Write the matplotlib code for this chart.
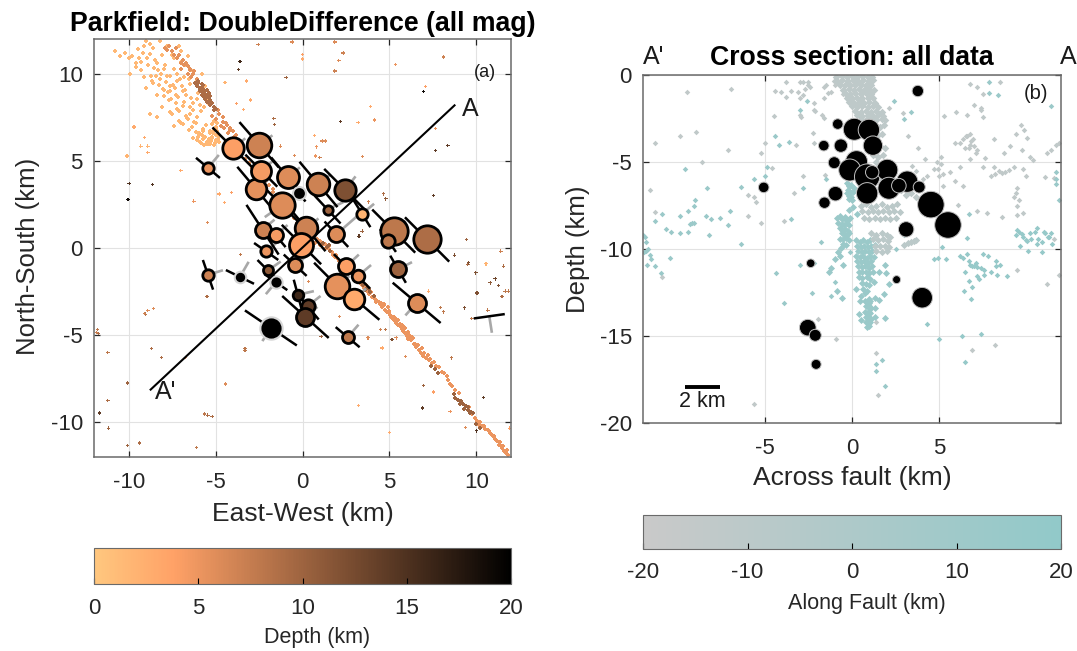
import matplotlib
matplotlib.use("Agg")
import numpy as np
import matplotlib.pyplot as plt
from matplotlib.colors import LinearSegmentedColormap, Normalize
from matplotlib.cm import ScalarMappable

plt.rcParams['font.family'] = ['Liberation Sans', 'DejaVu Sans']
plt.rcParams['axes.unicode_minus'] = False

W, H = 1077, 651

# ---- panel (a): large events, depth and size
ev_x = [-3.98, -2.5, -5.44, -2.66, -2.37, -0.84, 0.92, 2.45, -0.21, -1.19, 1.44, 3.43, -2.3, -1.55, 0.23, 1.95,
        5.25, 4.92, 7.17, -0.06, -2.09, -5.44, -3.6, -1.99, -1.53, -0.42, -0.27, 0.29, 0.17, -1.82, 2.6, 2.51,
        3.18, 2.01, 2.97, 5.5, 6.57, 10.75]
ev_y = [5.72, 5.93, 4.6, 3.36, 4.44, 4.05, 3.65, 3.34, 3.13, 2.46, 2.21, 1.96, 1.05, 0.74, 1.12, 0.79,
        0.97, 0.43, 0.49, 0.2, -0.2, -1.54, -1.66, -1.29, -1.96, -0.99, -2.69, -3.34, -3.96, -4.59, -5.12, -1.06,
        -1.62, -2.19, -2.9, -1.22, -3.15, -3.92]
ev_depth = [4, 7, 5, 5.5, 4.5, 6, 7, 12, 20, 6, 10, 2, 7, 4.5, 7, 6,
            8, 8, 9, 4, 5, 7, 20, 11, 20, 6, 16, 14, 14, 20, 8, 4,
            5, 5.5, 3, 10, 6, 5]
ev_radius = [10.7, 12.3, 5.7, 10.3, 10, 11, 11.3, 10.7, 4, 12.7, 4.7, 5.7, 8, 7, 11.3, 8,
             13.7, 6.7, 13.7, 12, 5.7, 5.7, 3.3, 5, 3.7, 7, 5.3, 6.7, 9, 8.7, 6, 8,
             6.3, 12.3, 10.3, 8, 9, 0]
ev_strike = [-45, -49, -40, -50, -45, -50, -50, -45, -50, -45, -47, -58, -57, -50, -50, -47,
             -45, -55, -45, -45, -35, -71, -26, -45, -35, -43, -75, -50, -42, -34, -40, -45,
             -45, -45, -40, -60, -40, 8]
ev_half = [1.7, 1.72, 0.9, 1.7, 1.3, 1.5, 1.7, 1.7, 0.6, 1.7, 1.1, 0.9, 1.7, 0.9, 1.7, 1.0,
           1.75, 0.8, 1.8, 1.6, 0.85, 0.9, 0.9, 0.85, 0.8, 0.9, 0.9, 1.0, 1.8, 1.8, 0.9, 1.0,
           1.0, 1.9, 1.9, 0.9, 1.8, 0.9]
ev_slip = [40, 35, 50, 40, 40, 40, 40, 52, 210, 215, 25, 40, 40, 40, 40, 41,
           40, 40, 40, 40, 40, 17, 60, 35, 230, 40, 13, 38, 40, 237, 49, 43,
           40, 40, 40, 27, 228, -81]
ev_slip_len = [0.9, 0.94, 0.97, 0.9, 0.9, 0.9, 0.9, 0.98, 0.8, 1.2, 1.0, 0.9, 0.9, 0.9, 0.9, 1.57,
               0.9, 0.9, 0.9, 0.9, 0.9, 0.9, 1.0, 0.9, 0.9, 0.9, 0.95, 0.95, 0.9, 0.9, 0.95, 1.0,
               1.0, 0.9, 0.9, 0.9, 0.97, 0.96]

# small events, one group per part of the fault
nw_light_x = [-10.8, -10.5, -10.2, -10.0, -9.8, -9.4, -9.0, -8.8, -8.6, -9.2, -8.2, -9.3, -9.9, -9.6, -9.3, -8.9,
              -8.5, -8.1, -7.7, -9.1, -8.7, -8.3, -7.9, -7.5, -7.1, -9.0, -8.6, -8.2, -7.8, -7.4, -7.0, -6.6,
              -8.4, -8.0, -7.6, -7.2, -6.8, -6.4, -8.1, -7.7, -7.3, -6.9, -6.5, -6.1, -5.8, -7.6, -7.2, -6.8,
              -6.4, -6.0, -5.6, -7.1, -6.7, -6.3, -5.9, -5.5, -6.3, -6.1, -5.9, -5.7, -5.5, -5.3, -5.1, -6.0,
              -5.8, -5.6, -5.4, -5.2, -5.0, -4.8, -5.3, -5.2, -5.1, -5.0, -4.9, -4.8, -5.25, -5.05, -4.85,
              -5.15, -4.95, -5.45, -5.65, -5.85, -7.4, -7.0, -6.6, -8.8, -8.4, -7.6, -7.8, -7.4, -7.0, -6.7,
              -9.6, -9.45, -9.15, -8.95, -8.75, -8.55, -8.35, -8.15, -7.95, -8.65, -8.45, -8.25, -8.05, -7.85, -7.65,
              -7.45, -7.25, -7.05, -7.95, -7.75, -7.55, -7.35, -7.15, -6.95, -6.75, -6.55, -7.5, -7.3, -7.1, -6.9,
              -6.7, -6.5, -6.3, -6.1, -5.9, -6.85, -6.65, -6.45, -6.25, -6.05, -5.85, -5.65, -5.45, -6.55, -6.35,
              -6.15, -5.95, -5.75, -5.55, -5.35, -5.2, -5.1, -5.0, -4.9, -5.55, -5.75, -5.95, -6.15]
nw_light_y = [11.3, 11.0, 11.2, 10.9, 11.0, 10.9, 11.9, 11.7, 11.5, 11.2, 11.9, 10.7, 10.0, 10.4, 10.2, 10.5,
              10.8, 11.1, 11.6, 9.8, 9.9, 10.2, 10.5, 11.1, 11.6, 9.2, 9.5, 9.7, 9.9, 10.3, 10.7, 11.0,
              8.8, 9.1, 9.3, 9.6, 9.8, 10.2, 8.1, 8.5, 8.8, 9.0, 9.4, 9.6, 10.0, 7.8, 8.0, 8.4,
              8.6, 8.9, 9.3, 7.3, 7.6, 7.9, 8.2, 8.6, 6.3, 6.2, 6.1, 6.25, 6.1, 6.0, 5.9, 6.4,
              6.5, 6.35, 6.25, 6.3, 6.2, 6.1, 6.6, 6.4, 6.8, 6.5, 6.7, 6.45, 6.15, 6.05, 6.25,
              6.6, 6.9, 5.95, 5.9, 6.05, 7.0, 7.2, 7.4, 7.7, 7.5, 9.0, 11.6, 10.9, 11.3, 10.5,
              10.6, 11.4, 11.6, 10.9, 11.15, 10.35, 10.65, 10.0, 10.3, 9.6, 9.9, 9.35, 9.15, 9.55, 9.85,
              9.35, 10.0, 9.7, 8.75, 8.95, 8.55, 9.2, 8.65, 9.3, 9.05, 9.7, 7.7, 8.3, 7.85, 8.15,
              8.8, 8.1, 8.35, 8.55, 9.0, 7.1, 7.45, 7.7, 7.25, 7.55, 7.85, 8.1, 8.3, 6.75, 6.95,
              7.2, 6.6, 6.85, 7.05, 6.7, 7.1, 7.3, 6.95, 7.15, 5.95, 6.7, 6.55, 6.65]
nw_mid_x = [-7.9, -7.7, -7.5, -7.3, -7.1, -6.9, -6.7, -6.5, -6.3, -6.1, -7.0, -6.8, -6.6, -6.4, -5.0, -4.8, -4.6,
            -4.4, -4.2, -4.0, -3.8, -5.2, -5.0, -4.7, -4.5, -4.3, -3.3, -3.1, -2.9, -2.7, -1.9, -1.7, -1.5, -1.3,
            -0.9, -0.7, -0.5, 0.0, 0.3, 0.6, 0.85, -7.8, -7.4, -7.2, -7.0, -6.6, -6.45, -6.25, -4.85, -4.55, -4.35,
            -4.15, -3.95, -2.3, -2.1, -1.7, -1.1, -0.3, 0.15, 0.45, -0.1, 0.7, 1.0]
nw_mid_y = [11.5, 11.6, 11.3, 11.5, 11.1, 10.8, 10.6, 10.3, 10.0, 9.7, 10.3, 10.5, 10.0, 9.8, 8.0, 7.7, 7.5,
            7.2, 6.9, 6.7, 6.5, 7.6, 7.4, 7.0, 6.9, 6.6, 5.1, 4.9, 4.6, 4.4, 3.6, 3.4, 3.0, 2.8,
            2.2, 2.0, 1.7, 1.2, 0.95, 0.6, 0.5, 11.35, 11.1, 10.9, 10.65, 10.45, 10.2, 10.15, 7.9, 7.25, 7.05,
            6.75, 6.35, 4.05, 3.85, 3.2, 2.5, 1.45, 0.75, 0.85, 1.35, 0.3, 0.15]
nw_dark_x = [-6.2, -6.1, -6.0, -5.9, -5.8, -5.7, -5.6, -5.5, -5.4, -6.0, -5.9, -5.8, -5.7, -5.6, -5.5, -5.4, -5.3,
             -5.9, -5.8, -5.7, -5.6, -5.5, -5.4, -5.3, -5.2, -5.1, -5.7, -5.5, -5.3, -5.1, -4.95]
nw_dark_y = [9.5, 9.3, 9.45, 9.2, 9.4, 9.15, 9.0, 8.8, 8.6, 9.6, 9.0, 9.25, 8.95, 8.85, 9.05, 8.35, 8.5,
             9.05, 8.8, 8.7, 8.55, 8.65, 8.9, 8.2, 8.3, 8.1, 9.35, 8.4, 8.7, 7.9, 8.0]
se_mid_x = [1.0, 1.2, 1.35, 1.5, 1.7, 1.85, 2.0, 2.2, 2.4, 2.6, 2.8, 3.0, 3.2, 3.35, 3.55, 3.7, 3.85, 4.0, 4.15, 4.3,
            4.45, 4.6, 4.75, 4.85, 5.0, 5.1, 5.2, 5.3, 5.4, 5.5, 5.6, 5.7, 5.8, 5.9, 6.0, 6.1, 6.25, 6.4, 6.55, 6.7,
            6.8, 6.95, 7.1, 7.3, 7.45, 8.4, 8.5, 8.6, 8.8, 9.0, 9.9, 10.05, 10.2, 10.35, 10.5, 10.65, 10.8, 10.9,
            11.0, 11.1, 11.2, 11.3, 11.4, 11.5, 11.6, 11.7, 11.8, 5.1, 5.3, 5.5, 5.7, 5.9, 6.1, 6.3, 4.9, 4.7, 4.5,
            1.1, 1.3, 1.55, 1.75, 1.95, 2.1, 2.3, 2.5, 2.7, 2.9, 3.1, 3.3, 3.45, 3.65, 3.8, 3.95, 4.1, 4.25, 4.4,
            4.55, 4.7, 4.95, 5.05, 5.25, 5.45, 5.65, 5.85, 6.05, 6.2, 6.35, 6.5, 6.65, 6.85, 7.0, 7.2, 7.35, 7.55,
            7.7, 7.85, 8.0, 8.15, 8.3, 9.6, 9.75, 10.15, 10.45, 10.75, 11.05, 11.35, 11.55, 11.75, 5.6, 5.8, 6.2]
se_mid_y = [0.4, 0.3, 0.0, 0.1, -0.25, -0.5, -0.6, -0.8, -1.0, -1.25, -1.4, -1.65, -1.9, -2.05, -2.3, -2.45, -2.65,
            -2.8, -2.95, -3.05, -3.2, -3.4, -3.55, -3.65, -3.75, -3.9, -4.05, -4.2, -4.3, -4.4, -4.5, -4.65, -4.75,
            -4.9, -5.05, -5.2, -5.3, -5.5, -5.7, -5.85, -6.0, -6.2, -6.3, -6.45, -6.6, -7.6, -7.8, -7.95, -8.15, -8.3,
            -9.75, -9.95, -10.0, -10.2, -10.4, -10.45, -10.65, -10.75, -10.85, -10.95, -11.1, -11.3, -11.35, -11.5,
            -11.65, -11.75, -11.9, -3.95, -4.0, -4.15, -4.4, -4.6, -4.95, -5.1, -3.4, -3.2, -3.15,
            0.15, 0.25, -0.05, -0.4, -0.4, -0.75, -0.75, -1.05, -1.15, -1.55, -1.55, -1.75, -2.15, -2.15, -2.55, -2.55, -2.85, -3.1, -3.1,
            -3.35, -3.3, -3.6, -3.85, -3.95, -4.15, -4.45, -4.55, -4.8, -5.05, -5.15, -5.5, -5.55, -5.75, -6.05, -6.15, -6.35, -6.55,
            -6.75, -6.85, -7.1, -7.2, -7.35, -9.15, -9.55, -10.15, -10.2, -10.5, -10.8, -11.15, -11.35, -11.6, -4.35, -4.55, -5.05]
se_dark_x = [1.2, 1.4, 1.6, 1.5, 3.5, 3.7, 3.9, 4.1, 3.6, 3.85, 7.4, 7.6, 7.8, 8.7, 8.8, 8.95, 9.1, 9.25, 9.4, 9.55, 9.7, 9.8, 9.05,
             9.3, 9.5, 9.65, 10.0, 10.2]
se_dark_y = [0.3, 0.05, -0.15, 0.15, -2.1, -2.3, -2.5, -2.75, -2.4, -2.35, -6.75, -6.95, -7.15, -8.4, -8.6, -8.7, -8.8, -8.95,
             -9.1, -9.3, -9.4, -9.5, -8.95, -9.25, -9.15, -9.45, -10.1, -10.35]
other_x = [-2.55, -0.6, 1.86, 2.34, 2.09, 0.0, 0.0, 8.1, 5.35, 1.86, -0.94, -3.6, -3.7, 6.97, 7.07, 3.9, 4.14, 3.2, 2.18, 7.64,
           8.37, 7.64, 3.47, 0.69, 1.13, 1.3, 0.8, 0.75, 1.0, -0.45, -1.26, -1.65, -1.6, -3.0, -3.8, -3.4, -4.46, -3.24,
           7.55, 4.67, 4.8, 3.81, 9.43, 3.43, 3.25, -9.98, -8.64, -10.04, -6.25, -5.48, -4.8, -4.5, -4.1, -7.0, -10.1,
           -9.1, -9.7, -8.9, -9.3, -8.9, -3.56, -5.5, -9.02, -9.1, -8.9, -8.58, -11.8, -11.85, -11.75, -8.7, -11.2, -8.1,
           -6.72, -3.31, -3.31, -10.08, -4.43, -11.2, -11.7, -5.63, -5.45, -5.2, -11.17, -10.08, -9.37, -6.11, 8.75, 9.52,
           9.55, 10.56, 11.57, 11.42, 9.98, 11.09, 10.8, 11.28, 10.04, 11.48, 11.66, 11.85, 9.31, 10.67, 9.75, 7.93, 8.12,
           7.26, 10.42, 8.56, 6.97, 7.55, 6.92, 8.5, 3.24, 5.0, 5.92, 4.58, 3.77, 2.13, 1.07, 0.36, 4.48, 4.77, 5.39, 5.15,
           9.37, 10.0, 11.9]
other_y = [11.7, 11.83, 11.83, 11.2, 10.75, 11.1, 10.85, 10.97, 10.55, 10.16, 9.78, 10.7, 10.26, 9.0, 9.26, 8.11, 7.35, 7.2, 7.25, 6.85,
           5.9, 5.6, 5.24, 6.47, 6.14, 6.14, 5.81, 5.28, 5.2, 5.3, 5.85, 7.44, 7.1, 8.5, 8.3, 7.95, 9.5, 9.59,
           3.02, 3.11, 2.82, 2.65, 0.49, 0.97, 0.68, 3.69, 3.65, 2.79, 2.69, 1.48, 3.1, 2.6, 3.2, 4.45, 5.28,
           6.33, 6.95, 5.47, 5.85, 5.85, -0.37, -2.77, -3.8, -3.75, -3.6, -3.48, -4.68, -4.85, -4.9, -5.78, -6.0, -6.27,
           -6.27, -5.77, -5.89, -7.75, -7.81, -8.74, -9.47, -9.53, -9.6, -9.66, -10.34, -11.33, -11.2, -11.45, -0.41, -0.95,
           -0.85, -0.91, -1.04, -0.18, -1.43, -1.77, -2.0, -2.15, -2.58, -2.77, -2.48, -2.48, -3.44, -3.57, -4.05, -3.4, -3.67,
           -2.48, -8.57, -6.31, -7.88, -8.27, -9.19, -9.38, -9.03, -10.58, -6.22, -5.74, -5.16, -3.92, -5.07, -1.91, -4.68, -4.68, -5.16, -5.26,
           -10.3, -10.5, -10.34]
other_depth = [7, 6, 6, 7, 6, 4, 3, 7, 5, 7, 10, 16, 14, 19, 4, 3, 5, 3, 14, 5,
               14, 14, 6, 3, 6, 6, 5, 5, 7, 6, 6, 9, 10, 3, 4, 3, 2, 3,
               14, 9, 11, 7, 10, 10, 14, 15, 15, 19, 5, 6, 3, 3, 4, 3, 2,
               3, 3, 3, 2, 2, 8, 9, 8, 7, 6, 6, 8, 7, 9, 9, 8, 9,
               5, 8, 8, 10, 6, 9, 14, 8, 9, 9, 10, 10, 9, 8, 12, 9,
               12, 2, 9, 7, 12, 13, 11, 12, 12, 9, 8, 8, 12, 8, 8, 8, 8,
               3, 14, 8, 10, 4, 14, 5, 3, 3, 6, 3, 6, 6, 10, 6, 7, 8, 6, 12,
               6, 15, 4]

# ---- panel (b): large events in section
sec_x = [3.78, -0.82, 0.13, 0.97, -1.62, -0.64, 1.2, -1.02, 0.26, -0.13, 0.87, 2.02, 3.17, 2.12, 2.69, 3.86, 0.87, 1.16,
         -5.07, -0.95, -1.58, 4.53, 5.51, 3.11, -2.37, 2.56, 4.03, -2.54, -2.11, -2.06]
sec_y = [-0.92, -2.82, -3.12, -3.16, -4.06, -4.06, -4.06, -5.04, -4.98, -5.46, -5.84, -5.46, -6.13, -6.51, -6.36, -6.44, -6.8, -5.59,
         -6.46, -6.82, -7.34, -7.45, -8.62, -8.87, -10.82, -11.76, -12.8, -14.52, -14.96, -16.63]
sec_radius = [5.7, 5.3, 11, 10.7, 5.3, 6.7, 9.7, 6, 11, 11, 12.7, 10.7, 10.7, 11, 7.3, 6, 10.7, 6.7,
              5.3, 7.3, 5.7, 13.3, 13.3, 7.7, 4.3, 4, 10.3, 8.3, 6, 5]

# small events: (x, depth) by group, each group with its along-fault position
top_x = [-0.9, -0.6, -0.3, 0.0, 0.3, 0.6, 0.9, 1.15, -0.85, -0.55, -0.25, 0.05, 0.35, 0.65, 0.95, 1.2, -0.7, -0.4, -0.1, 0.2, 0.5,
         0.8, 1.1, -0.5, -0.2, 0.1, 0.4, 0.7, 1.0, 1.25, -0.4, -0.1, 0.2, 0.5, 0.8, 1.1, -0.3, 0.0, 0.3, 0.6, 0.9, 1.2, -0.2, 0.1,
         0.4, 0.7, 1.0, 1.3, 0.0, 0.3, 0.6, 0.9, 1.2, 1.5, 0.2, 0.5, 0.8, 1.1, 1.4, 1.7, 0.3, 0.6, 0.9, 1.2, 1.5, 1.8, 0.5, 0.8,
         1.1, 1.4, 1.7, 1.9, 0.7, 1.0, 1.3, 1.6, 1.85, 0.85, 1.15, 1.45, 1.75, 1.0, 1.3, 1.6, 1.9, 1.2, 1.5, 1.8, 1.4, 1.7, 2.0, 1.6, 1.9, 2.2,
         1.7, 2.0, 2.3, 2.6, 2.1, 2.45, 2.8, 3.1, 3.4, 3.7]
top_y = [-0.1, -0.05, -0.1, -0.05, -0.1, -0.05, -0.1, -0.1, -0.35, -0.3, -0.35, -0.3, -0.35, -0.3, -0.35, -0.3, -0.6, -0.55, -0.6, -0.55, -0.6,
         -0.55, -0.6, -0.85, -0.8, -0.85, -0.8, -0.85, -0.8, -0.85, -1.05, -1.1, -1.05, -1.1, -1.05, -1.1, -1.3, -1.35, -1.3, -1.35, -1.3, -1.35, -1.55, -1.6,
         -1.55, -1.6, -1.55, -1.6, -1.8, -1.85, -1.8, -1.85, -1.8, -1.85, -2.05, -2.1, -2.05, -2.1, -2.05, -2.1, -2.3, -2.35, -2.3, -2.35, -2.3, -2.35, -2.55, -2.6,
         -2.55, -2.6, -2.55, -2.6, -2.9, -3.0, -2.9, -3.0, -2.9, -3.5, -3.4, -3.5, -3.4, -4.1, -4.2, -4.1, -4.2, -4.6, -4.7, -4.6, -5.0, -5.1, -5.0, -5.4, -5.5, -5.4,
         -6.0, -6.1, -6.0, -6.1, -6.6, -6.7, -6.6, -6.9, -6.8, -7.0]
mid_gray_x = [0.5, 0.8, 1.1, 1.4, 1.7, 2.0, 2.3, 2.6, 0.6, 0.9, 1.2, 1.5, 1.8, 2.1, 2.4, 2.75, 0.7, 1.0, 1.3, 1.6, 1.9, 2.2, 2.5, 1.1, 1.4, 1.7, 2.0,
              2.2, 1.2, 1.5, 1.8, 2.05, 1.3, 1.6, 1.9, 2.1, 1.4, 1.7, 2.0, 3.0, 3.2, 3.4, 3.55, 3.7]
mid_gray_y = [-7.5, -7.4, -7.6, -7.5, -7.4, -7.6, -7.5, -7.4, -7.8, -7.9, -7.8, -7.9, -7.8, -7.9, -7.8, -7.9, -8.2, -8.25, -8.2, -8.25, -8.2, -8.25, -8.2, -9.1, -9.2, -9.1, -9.2,
              -9.3, -9.45, -9.5, -9.45, -9.55, -9.8, -9.85, -9.8, -9.9, -10.1, -10.15, -10.1, -9.75, -9.65, -9.6, -9.55, -9.5]
teal_x = [-0.3, -0.2, -0.05, 0.1, -0.25, -0.1, 0.05, -0.2, -0.05, -0.15, 0.0, -0.3, -0.15, -0.85, -0.7, -0.55, -0.4, -0.25, -0.1, -0.8, -0.6, -0.45, -0.3, -0.15, -0.7, -0.55,
          -0.4, -0.25, -0.6, -0.45, -0.3, -0.15, -0.7, -0.5, -0.35, -0.2, -0.5, -0.35, -0.65, -0.8, -1.0, -0.7, -0.5, 0.25, 0.45, 0.65, 0.85, 1.05, 0.3, 0.5, 0.7, 0.9,
          1.1, 1.3, 0.35, 0.55, 0.75, 0.95, 1.15, 0.25, 0.45, 0.65, 0.85, 1.05, 1.25, 0.3, 0.5, 0.7, 0.9, 1.1, 0.35, 0.55, 0.75, 0.95, 1.15, 0.4, 0.6, 0.8, 1.0,
          1.2, 0.4, 0.6, 0.85, 1.05, 0.6, 0.8, 1.0, 1.25, 0.65, 0.85, 0.25, 0.5, 0.75, 0.95, 1.3, 1.55, 0.75, 0.85, 0.95, 1.05, 0.8, 0.9, 1.0, 1.1, 0.75, 0.85, 0.95, 1.05,
          0.8, 0.9, 1.0, 1.1, 0.8, 0.95, 1.05, 0.85, 1.0, 0.4, 0.5, 1.3, 1.9, 0.05, 0.3, -0.2, -0.4, -1.2, -1.3, -0.85, -0.6, 1.55, 1.9, 1.95, 2.1, 1.85, 0.45, 1.3]
teal_y = [-6.2, -6.4, -6.3, -6.5, -6.6, -6.75, -6.7, -6.95, -7.0, -7.15, -7.2, -6.8, -6.3, -8.2, -8.1, -8.3, -8.15, -8.35, -8.2, -8.5, -8.55, -8.6, -8.5, -8.6, -8.8, -8.9,
          -8.85, -8.95, -9.1, -9.15, -9.2, -9.1, -9.4, -9.45, -9.35, -9.5, -9.7, -9.75, -9.95, -10.2, -10.6, -10.4, -10.9, -9.5, -9.6, -9.5, -9.6, -9.5, -9.85, -9.9, -9.8, -9.9,
          -9.85, -9.75, -10.1, -10.15, -10.1, -10.2, -10.1, -10.4, -10.45, -10.4, -10.5, -10.4, -10.45, -10.7, -10.75, -10.7, -10.8, -10.7, -11.0, -11.05, -11.0, -11.1, -11.0, -11.3, -11.35, -11.3, -11.4,
          -11.3, -11.6, -11.65, -11.6, -11.7, -11.95, -12.0, -12.05, -11.9, -12.3, -12.4, -12.3, -12.7, -12.5, -12.9, -12.8, -12.95, -13.0, -13.05, -13.1, -13.0, -13.3, -13.35, -13.3, -13.4, -13.6, -13.65, -13.6, -13.7,
          -13.9, -13.95, -13.9, -14.0, -14.2, -14.25, -14.2, -14.5, -14.45, -13.75, -14.1, -13.9, -13.95, -7.6, -8.0, -7.75, -8.3, -11.1, -11.3, -12.4, -12.8, -11.3, -10.9, -11.4, -12.0, -12.6, -13.0, -13.4]
right_teal_x = [6.2, 6.4, 6.6, 6.8, 7.0, 7.2, 7.4, 7.6, 6.5, 6.9, 7.3, 6.7, 7.15, 6.45, 6.85, 7.6, 7.5, 8.25, 8.25, 8.9, 8.0, 9.4, 9.6, 9.8, 10.0, 10.2, 10.5, 10.7, 10.9, 11.1, 11.3, 11.5,
                9.5, 9.75, 10.05, 10.3, 10.6, 11.0, 11.25, 11.45, 9.65, 10.1, 10.65, 10.9, 8.3, 8.5, 5.15, 4.95, 5.4, 4.7, 6.9, 6.6, 6.7, 7.8, 7.1, 6.3, 4.3, 5.0, 6.5, 7.4]
right_teal_y = [-10.4, -10.5, -10.3, -10.9, -11.0, -11.05, -11.1, -11.5, -11.3, -11.0, -11.7, -11.85, -11.55, -12.4, -12.9, -11.2, -10.3, -10.7, -11.0, -11.55, -11.3, -9.2, -9.0, -9.3, -9.5, -9.1, -9.0, -9.4, -9.6, -9.1, -9.3, -9.7,
                -8.9, -9.15, -9.55, -9.4, -8.8, -9.0, -9.3, -9.1, -9.85, -10.1, -9.7, -10.2, -11.5, -10.9, -9.9, -10.5, -10.6, -10.6, -12.2, -9.35, -10.7, -10.4, -10.8, -15.0, -14.3, -15.2, -16.5, -14.9]
far_teal_x = [-12.0, -11.9, -11.8, -11.7, -11.85, -11.95, -11.6, -11.55, -11.75, -11.3, -10.95, -10.45, -9.9, -9.4, -8.1, -10.7, -9.9, -9.4, -9.1, -9.0, -6.4, -5.6, -5.0, -4.9, -4.4,
              -4.35, -3.9, -3.0, -2.3, -1.0, -1.2, -0.8, -0.6, -0.1, 1.35, 1.7, 1.4, 1.9, 2.5, 3.0, 3.2, -2.2, -1.8, -3.5, -7.6, -8.4, -7.0, -4.2, -3.0, -2.6]
far_teal_y = [-9.2, -9.3, -9.6, -10.0, -10.1, -10.2, -10.35, -10.6, -10.9, -11.0, -11.4, -10.5, -9.1, -9.0, -8.3, -8.85, -8.1, -7.8, -7.5, -7.2, -9.7, -6.0, -5.8, -5.3, -3.5, -11.4,
              -13.1, -10.9, -12.5, -11.9, -12.7, -10.2, -9.9, -10.2, -16.6, -16.4, -17.0, -17.9, -10.0, -9.2, -8.85, -10.8, -9.6, -8.3, -8.2, -8.1, -7.8, -4.0, -2.0, -1.5]
gray_far_x = [6.2, 6.4, 6.6, 6.7, 6.85, 7.0, 7.2, 6.5, 6.75, 6.95, 7.1, 6.55, 6.8, 5.9, 5.6, 5.9, 6.4, 6.6, 7.4, 7.5, 8.2, 8.45, 9.8, 10.0, 9.6, 10.4, 11.6, 11.9, 11.2, 9.4, 9.7, 9.5, 9.3,
              4.9, 4.95, 5.0, 5.2, 4.1, 4.3, 2.0, 2.1, 2.9, 3.2, 3.8, -0.5, -1.2, -1.6, -1.7, -2.2, -2.9, -3.1, -3.0, -3.5, -4.4, -3.2, -3.35, -11.3, -9.5, -9.9, -5.6, -6.0, -5.2,
              -3.9, -5.0, -5.2, -2.7, -3.0, -2.5, -1.0, -1.6, -2.2, 1.4, 1.35, 1.5, 8.2, 6.9, 9.5, 11.2, 11.6, 11.9, -10.9, -5.6, -1.95, -0.9]
gray_far_y = [-3.9, -3.7, -3.5, -4.2, -3.8, -4.1, -4.3, -4.2, -4.0, -3.7, -4.5, -3.5, -3.4, -3.9, -5.6, -6.1, -6.4, -2.3, -1.9, -1.1, -5.7, -5.5, -5.4, -5.8, -7.2, -4.9, -5.9, -3.9, -4.5, -3.4, -2.9, -6.5, -7.0,
              -5.0, -5.4, -5.8, -5.7, -6.0, -5.8, -6.4, -1.9, -2.2, -3.5, -4.2, -1.1, -1.0, -1.3, -2.3, -2.0, -2.4, -1.0, -1.3, -0.9, -0.9, -4.0, -6.8, -7.9, -1.0, -3.5, -7.0, -8.1, -8.5,
              -8.4, -3.9, -4.5, -0.8, -0.4, -0.6, -0.6, -0.7, -1.6, -14.2, -16.0, -18.4, -15.5, -15.8, -11.2, -12.0, -9.4, -11.5, -11.6, -18.9, -14.0, -15.2]
upper_gray_x = [-6.93, -8.95, -11.3, -7.1, -8.6, -11.6, -6.0, -5.5, -3.8, -2.8, -2.5, -2.4, -2.8, -4.1, -3.8, -4.5, -3.0, -2.1, -1.6, -1.4,
                -1.5, -1.05, -2.25, -2.2, -4.6, -2.8, -1.55, 6.8, 8.5, 7.2, 5.3, 5.95, 7.0, 7.4, 7.5, 9.85, 10.05, 9.1, 8.15, 9.75,
                11.7, 11.4, 10.2, 9.3, 8.6, 8.8, 9.0, 8.0, 11.1, 8.75, 6.8, 7.65, 8.15, 7.55, 6.2, 5.1, 5.1, 4.2, 3.45, 3.65,
                4.7, 5.2, 9.4, 9.5, 9.5, 9.8, 7.75, 7.2, 6.1, 8.6]
upper_gray_y = [-0.8, -3.26, -3.9, -4.3, -5.0, -6.6, -6.9, -7.3, -0.4, -0.4, -0.4, -0.7, -1.15, -0.95, -1.25, -2.35, -2.3, -2.05, -2.45, -1.05,
                -0.6, -0.35, -3.35, -3.9, -5.35, -5.8, -5.75, -0.5, -0.4, -0.7, -2.35, -2.1, -1.7, -2.0, -2.4, -3.15, -3.6, -4.1, -3.7, -4.3,
                -4.0, -4.3, -4.7, -5.3, -5.65, -5.55, -5.45, -5.8, -5.85, -4.5, -4.8, -4.75, -5.3, -5.3, -5.3, -4.7, -5.1, -4.85, -5.25, -5.5,
                -5.4, -6.4, -6.8, -7.5, -8.05, -7.95, -7.95, -7.8, -7.45, -8.15]
upper_teal_x = [-9.6, -8.3, -6.4, -8.2, -7.1, -9.2, -9.1, -9.3, -10.9, -11.3, -10.4, -3.6, 7.85, 7.85, 8.4, 11.45, 11.7, 11.7, 11.7,
                11.9, 6.7, -2.8, -1.5, -0.3, 0.5, 1.6, 2.4, 3.0, 3.4]
upper_teal_y = [-5.4, -6.5, -6.45, -9.2, -8.6, -8.5, -8.5, -8.55, -8.0, -8.4, -9.0, -3.85, -0.4, -1.05, -1.15, -1.8, -5.55, -5.95, -6.25,
                -7.2, -8.0, -6.5, -6.0, -3.2, -2.4, -2.2, -1.5, -2.5, -2.1]

# colour bars
depth_ticks = [0, 5, 10, 15, 20]
along_ticks = [-20, -10, 0, 10, 20]

depth_cmap = plt.get_cmap('copper_r')
along_cmap = LinearSegmentedColormap.from_list("along", [(0.79, 0.79, 0.79), (0.57, 0.79, 0.79)])
depth_norm = Normalize(0, 20)
along_norm = Normalize(-20, 20)
DARK = '#262626'
FRAME = '#6a6a6a'


def px_axes(fig, left, right, top, bottom):
    return fig.add_axes([left / W, 1 - bottom / H, (right - left) / W, (bottom - top) / H])


def style_axes(ax):
    ax.grid(True, color='#e2e2e2', lw=0.8)
    ax.set_axisbelow(True)
    ax.tick_params(direction='in', length=4, width=0.9, color=DARK, top=True, right=True,
                   labelsize=16, labelcolor=DARK)
    ax.tick_params(axis='x', pad=11)
    ax.tick_params(axis='y', pad=8)
    for s in ax.spines.values():
        s.set_color(FRAME)
        s.set_linewidth(1.1)


fig = plt.figure(figsize=(W / 100, H / 100), dpi=100)

# panel (a)
ax1 = px_axes(fig, 94, 511, 39, 457)
ax1.set_xlim(-12, 12)
ax1.set_ylim(-12, 12)
style_axes(ax1)
ax1.set_xticks([-10, -5, 0, 5, 10])
ax1.set_yticks([-10, -5, 0, 5, 10])

for gx, gy, gd in [(nw_light_x, nw_light_y, 1.5), (nw_mid_x, nw_mid_y, 5.5), (nw_dark_x, nw_dark_y, 9),
                   (se_mid_x, se_mid_y, 5), (se_dark_x, se_dark_y, 10)]:
    ax1.scatter(gx, gy, s=6, marker='P', linewidths=0, color=depth_cmap(depth_norm(gd)), zorder=2)
ax1.scatter(other_x, other_y, s=6, marker='P', linewidths=0, c=other_depth, cmap=depth_cmap, norm=depth_norm, zorder=2)

for x0, y0, st, hl, sl, sll in zip(ev_x, ev_y, ev_strike, ev_half, ev_slip, ev_slip_len):
    ax1.plot([x0, x0 + sll * np.cos(np.radians(sl))], [y0, y0 + sll * np.sin(np.radians(sl))],
             color='#a8a8a8', lw=1.9, solid_capstyle='butt', zorder=3)
    dx, dy = hl * np.cos(np.radians(st)), hl * np.sin(np.radians(st))
    ax1.plot([x0 - dx, x0 + dx], [y0 - dy, y0 + dy], color='k', lw=1.8, solid_capstyle='butt', zorder=3.5)

for x0, y0, d, r in zip(ev_x, ev_y, ev_depth, ev_radius):
    if r == 0:
        continue
    if d == 20:
        # the deepest events carry a pale ring instead of a dark outline
        ax1.scatter(x0, y0, s=(2 * (r + 3.5) / 1.389) ** 2, color='#d6d6d6', linewidths=0, zorder=4)
    ax1.scatter(x0, y0, s=(2 * r / 1.389) ** 2, color=depth_cmap(depth_norm(d)), edgecolors='k', linewidths=2.0, zorder=4)

ax1.plot([8.75, -8.74], [8.19, -8.13], color='k', lw=1.5, zorder=5)
ax1.text(9.2, 8.0, "A", fontsize=18, color='#1a1a1a', va='center', zorder=6)
ax1.text(-8.5, -8.25, "A'", fontsize=18, color='#1a1a1a', va='center', zorder=6)
ax1.text(9.85, 10.05, "(a)", fontsize=13, color='#1a1a1a', va='center', zorder=6)
ax1.set_xlabel("East-West (km)", fontsize=19, color=DARK, va='center')
ax1.xaxis.set_label_coords(0.5, -57 / 418)
ax1.set_ylabel("North-South (km)", fontsize=18.5, color=DARK, va='center')
ax1.yaxis.set_label_coords(-66 / 417, 0.48)
ax1.set_title("Parkfield: DoubleDifference (all mag)", fontsize=19.2, fontweight='bold', color='k', pad=6)

# panel (b)
ax2 = px_axes(fig, 643, 1061, 75, 423)
ax2.set_xlim(-12, 12)
ax2.set_ylim(-20, 0)
style_axes(ax2)
ax2.set_xticks([-5, 0, 5])
ax2.set_yticks([-20, -15, -10, -5, 0])

for gx, gy, ga, sz in [(far_teal_x, far_teal_y, 14, 8), (gray_far_x, gray_far_y, -14, 8), (right_teal_x, right_teal_y, 17, 8),
                       (upper_gray_x, upper_gray_y, -13, 8), (upper_teal_x, upper_teal_y, 13, 8),
                       (teal_x, teal_y, 14, 13), (mid_gray_x, mid_gray_y, -10, 14), (top_x, top_y, -12, 15)]:
    ax2.scatter(gx, gy, s=sz, marker='D', linewidths=0, color=along_cmap(along_norm(ga)), zorder=2)

ax2.scatter(sec_x, sec_y, s=[(2 * r / 1.389) ** 2 for r in sec_radius], color='k', edgecolors='#c0c0c0',
            linewidths=0.7, zorder=4)

ax2.plot([-9.6, -7.6], [-17.95, -17.95], color='k', lw=2.8, solid_capstyle='butt', zorder=5)
ax2.text(-8.6, -18.75, "2 km", fontsize=15.5, color='#1a1a1a', ha='center', va='center', zorder=6)
ax2.text(9.85, -1.05, "(b)", fontsize=14.5, color='#1a1a1a', va='center', zorder=6)
ax2.set_xlabel("Across fault (km)", fontsize=19, color=DARK, va='center')
ax2.xaxis.set_label_coords(0.5, -55 / 348)
ax2.set_ylabel("Depth (km)", fontsize=18.5, color=DARK, va='center')
ax2.yaxis.set_label_coords(-65 / 418, 0.5)
ax2.set_title("Cross section: all data", fontsize=19.2, fontweight='bold', color='k', pad=7)
fig.text(643 / W, 1 - 57 / H, "A'", fontsize=18, color='#1a1a1a', va='center')
fig.text(1060 / W, 1 - 57 / H, "A", fontsize=18, color='#1a1a1a', va='center')

# colour bars
cax1 = px_axes(fig, 94, 511, 548, 584)
cb1 = fig.colorbar(ScalarMappable(norm=depth_norm, cmap=depth_cmap), cax=cax1, orientation='horizontal', ticks=depth_ticks)
cb1.set_label("Depth (km)", fontsize=15.5, color=DARK, va='center')
cb1.ax.xaxis.set_label_coords(0.534, -53 / 36)
cb1.ax.tick_params(direction='in', length=4, labelsize=16, labelcolor=DARK, width=0.8, pad=10)
cb1.outline.set_edgecolor(FRAME)

cax2 = px_axes(fig, 643, 1061, 515, 549)
cb2 = fig.colorbar(ScalarMappable(norm=along_norm, cmap=along_cmap), cax=cax2, orientation='horizontal', ticks=along_ticks)
cb2.set_label("Along Fault (km)", fontsize=15.5, color=DARK, va='center')
cb2.ax.xaxis.set_label_coords(0.536, -55 / 34)
cb2.ax.tick_params(direction='in', length=4, labelsize=16, labelcolor=DARK, width=0.8, pad=9)
cb2.outline.set_edgecolor(FRAME)

fig.savefig("out.png", dpi=100)
